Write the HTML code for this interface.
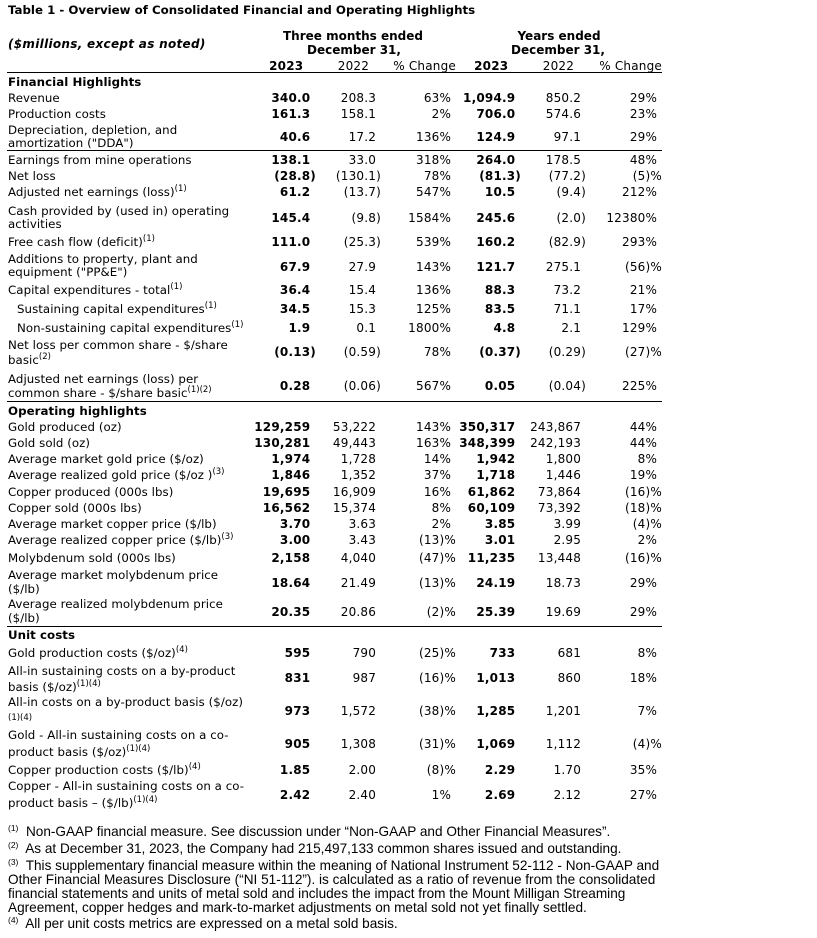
<!DOCTYPE html>
<html><head><meta charset="utf-8">
<style>
html,body{margin:0;padding:0;background:#fff;}
body{width:817px;height:938px;position:relative;overflow:hidden;font-family:"DejaVu Sans","Liberation Sans",sans-serif;font-size:12px;color:#000;}
.t{position:absolute;white-space:nowrap;line-height:14px;height:14px;}
.lbl{font-size:11.8px;letter-spacing:0.05px;}
.num{letter-spacing:0.2px;}
.r{text-align:right;}
.b{font-weight:bold;}
sup{font-size:8.5px;vertical-align:5px;line-height:0;letter-spacing:0;}
.hl{position:absolute;height:0;border-top:1.5px solid #000;}
.fn{position:absolute;font-family:"Liberation Sans",sans-serif;font-size:13.6px;line-height:14px;white-space:nowrap;}
.p{visibility:hidden;}
</style></head>
<body>
<div class="t b" style="left:8px;top:3px;font-size:11.8px">Table 1 - Overview of Consolidated Financial and Operating Highlights</div>
<div class="t b" style="left:8px;top:37px;font-style:italic;letter-spacing:0.3px">($millions, except as noted)</div>
<div class="t b" style="left:253px;top:29px;width:200px;text-align:center">Three months ended</div>
<div class="t b" style="left:274px;top:43px;width:160px;text-align:center">December 31,</div>
<div class="t b" style="left:499px;top:29px;width:120px;text-align:center">Years ended</div>
<div class="t b" style="left:483px;top:43px;width:150px;text-align:center">December 31,</div>
<div id="tbl"></div>
<div class="hl" style="left:7px;top:72px;width:655px"></div>
<div class="hl" style="left:7px;top:150px;width:655px"></div>
<div class="hl" style="left:7px;top:401px;width:655px"></div>
<div class="hl" style="left:7px;top:626px;width:655px"></div>

<div class="fn" style="left:8px;top:825px"><sup>(1)</sup>&nbsp; Non-GAAP financial measure. See discussion under “Non-GAAP and Other Financial Measures”.</div>
<div class="fn" style="left:8px;top:842px"><sup>(2)</sup>&nbsp; As at December 31, 2023, the Company had 215,497,133 common shares issued and outstanding.</div>
<div class="fn" style="left:8px;top:859px"><sup>(3)</sup>&nbsp; This supplementary financial measure within the meaning of National Instrument 52-112 - Non-GAAP and<br>Other Financial Measures Disclosure (“NI 51-112”). is calculated as a ratio of revenue from the consolidated<br>financial statements and units of metal sold and includes the impact from the Mount Milligan Streaming<br>Agreement, copper hedges and mark-to-market adjustments on metal sold not yet finally settled.</div>
<div class="fn" style="left:8px;top:917px"><sup>(4)</sup>&nbsp; All per unit costs metrics are expressed on a metal sold basis.</div>

<script>
const colRight=[309,374,449,514,579,655];
const headerYears=["2023","2022","% Change","2023","2022","% Change"];
// rows: [name, label lines, label y-centers, value y-center, values, section?, indent]
const rows=[
["financial-highlights",["Financial Highlights"],[82],null,null,1],
["revenue",["Revenue"],[98],98,["340.0","208.3","63%","1,094.9","850.2","29%"]],
["production-costs",["Production costs"],[114],114,["161.3","158.1","2%","706.0","574.6","23%"]],
["dda",["Depreciation, depletion, and","amortization (\"DDA\")"],[130,143],137,["40.6","17.2","136%","124.9","97.1","29%"]],
["earnings-mine-ops",["Earnings from mine operations"],[160],160,["138.1","33.0","318%","264.0","178.5","48%"]],
["net-loss",["Net loss"],[176],176,["(28.8)","(130.1)","78%","(81.3)","(77.2)","(5)%"]],
["adjusted-net-earnings",["Adjusted net earnings (loss)<sup>(1)</sup>"],[192],192,["61.2","(13.7)","547%","10.5","(9.4)","212%"]],
["cash-operating",["Cash provided by (used in) operating","activities"],[211,224],218,["145.4","(9.8)","1584%","245.6","(2.0)","12380%"]],
["free-cash-flow",["Free cash flow (deficit)<sup>(1)</sup>"],[242],242,["111.0","(25.3)","539%","160.2","(82.9)","293%"]],
["additions-ppe",["Additions to property, plant and","equipment (\"PP&amp;E\")"],[259,272],267,["67.9","27.9","143%","121.7","275.1","(56)%"]],
["capex-total",["Capital expenditures - total<sup>(1)</sup>"],[290],290,["36.4","15.4","136%","88.3","73.2","21%"]],
["sustaining-capex",["Sustaining capital expenditures<sup>(1)</sup>"],[309],309,["34.5","15.3","125%","83.5","71.1","17%"],0,1],
["non-sustaining-capex",["Non-sustaining capital expenditures<sup>(1)</sup>"],[328],328,["1.9","0.1","1800%","4.8","2.1","129%"],0,1],
["net-loss-per-share",["Net loss per common share - $/share","basic<sup>(2)</sup>"],[345,360],352,["(0.13)","(0.59)","78%","(0.37)","(0.29)","(27)%"]],
["adj-earnings-per-share",["Adjusted net earnings (loss) per","common share - $/share basic<sup>(1)(2)</sup>"],[379,393],386,["0.28","(0.06)","567%","0.05","(0.04)","225%"]],
["operating-highlights",["Operating highlights"],[411],null,null,1],
["gold-produced",["Gold produced (oz)"],[427],427,["129,259","53,222","143%","350,317","243,867","44%"]],
["gold-sold",["Gold sold (oz)"],[443],443,["130,281","49,443","163%","348,399","242,193","44%"]],
["market-gold-price",["Average market gold price ($/oz)"],[459],459,["1,974","1,728","14%","1,942","1,800","8%"]],
["realized-gold-price",["Average realized gold price ($/oz )<sup>(3)</sup>"],[475],475,["1,846","1,352","37%","1,718","1,446","19%"]],
["copper-produced",["Copper produced (000s lbs)"],[492],492,["19,695","16,909","16%","61,862","73,864","(16)%"]],
["copper-sold",["Copper sold (000s lbs)"],[508],508,["16,562","15,374","8%","60,109","73,392","(18)%"]],
["market-copper-price",["Average market copper price ($/lb)"],[524],524,["3.70","3.63","2%","3.85","3.99","(4)%"]],
["realized-copper-price",["Average realized copper price ($/lb)<sup>(3)</sup>"],[540],540,["3.00","3.43","(13)%","3.01","2.95","2%"]],
["molybdenum-sold",["Molybdenum sold (000s lbs)"],[558],558,["2,158","4,040","(47)%","11,235","13,448","(16)%"]],
["market-moly-price",["Average market molybdenum price","($/lb)"],[575,589],583,["18.64","21.49","(13)%","24.19","18.73","29%"]],
["realized-moly-price",["Average realized molybdenum price","($/lb)"],[604,618],612,["20.35","20.86","(2)%","25.39","19.69","29%"]],
["unit-costs",["Unit costs"],[635],null,null,1],
["gold-production-costs",["Gold production costs ($/oz)<sup>(4)</sup>"],[653],653,["595","790","(25)%","733","681","8%"]],
["aisc-by-product",["All-in sustaining costs on a by-product","basis ($/oz)<sup>(1)(4)</sup>"],[671,687],678,["831","987","(16)%","1,013","860","18%"]],
["aic-by-product",["All-in costs on a by-product basis ($/oz)","<span style='font-size:8.5px;letter-spacing:0'>(1)(4)</span>"],[702,716],711,["973","1,572","(38)%","1,285","1,201","7%"]],
["gold-aisc-co-product",["Gold - All-in sustaining costs on a co-","product basis ($/oz)<sup>(1)(4)</sup>"],[735,752],744,["905","1,308","(31)%","1,069","1,112","(4)%"]],
["copper-production-costs",["Copper production costs ($/lb)<sup>(4)</sup>"],[770],770,["1.85","2.00","(8)%","2.29","1.70","35%"]],
["copper-aisc-co-product",["Copper - All-in sustaining costs on a co-","product basis – ($/lb)<sup>(1)(4)</sup>"],[786,803],795,["2.42","2.40","1%","2.69","2.12","27%"]]
];
const tbl=document.getElementById('tbl');
function fmt(v){
  if(v.endsWith(')')) return v;
  if(v.endsWith(')%')) return v;
  return v+'<span class="p">)</span>';
}
headerYears.forEach((h,i)=>{
  const d=document.createElement('div');
  
  
  d.className='t r num'+((i===0||i===3)?' b':'');
  d.style.left=(colRight[i]-100)+'px';d.style.width='100px';d.style.top='59px';
  d.innerHTML=(i===2||i===5)?h:h+'<span class="p">)</span>';
  if(i===2||i===5){d.style.left=(colRight[i]-100+7)+'px';}
  tbl.appendChild(d);
});
rows.forEach(r=>{
  const [name,lines,ys,vy,vals,section,indent]=r;
  lines.forEach((ln,k)=>{
    const d=document.createElement('div');
    
    
    d.className='t lbl'+(section?' b':'');
    d.style.left=(indent?17:8)+'px';
    d.style.top=(ys[k]-7)+'px';
    d.innerHTML=ln;
    tbl.appendChild(d);
  });
  if(vals){
    vals.forEach((v,i)=>{
      const d=document.createElement('div');
      
      
      d.className='t r num'+((i===0||i===3)?' b':'');
      d.style.left=(colRight[i]-100+7)+'px';d.style.width='100px';
      d.style.top=(vy-7)+'px';
      d.innerHTML=fmt(v);
      tbl.appendChild(d);
    });
  }
});
</script>
</body></html>
